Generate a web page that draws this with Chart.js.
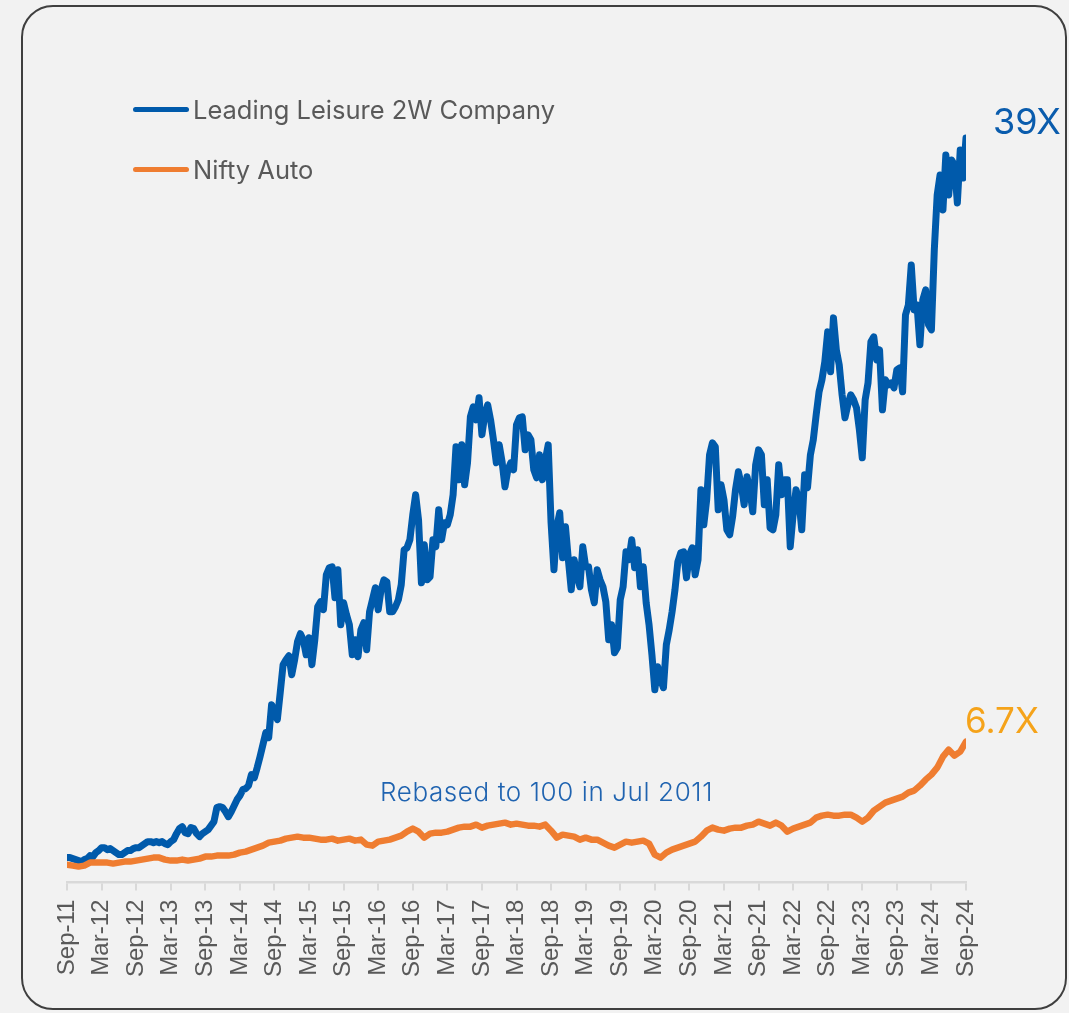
<!DOCTYPE html>
<html>
<head>
<meta charset="utf-8">
<script src="https://cdn.jsdelivr.net/npm/chart.js@4.4.1/dist/chart.umd.min.js"></script>
<style>
  body { margin: 0; background: #f2f2f2; overflow: hidden; width: 1069px; height: 1013px; position: relative; font-family: Inter, "Open Sans", sans-serif; }
  .card { position: absolute; left: 21px; top: 5px; width: 1046px; height: 1005px; border: 2.5px solid #3f3f3f; border-radius: 32px; box-sizing: border-box; }
  #chart { position: absolute; left: 0; top: 0; }
  .legend { position: absolute; left: 133px; color: #595959; font-size: 25.5px; display: flex; align-items: center; }
  .legend span.swatch { display: inline-block; width: 56px; height: 5px; border-radius: 3px; margin-right: 4px; }
  .note { position: absolute; white-space: nowrap; }
</style>
</head>
<body>
<div class="card"></div>
<canvas id="chart" width="1069" height="1013"></canvas>

<div class="legend" style="top: 94px;"><span class="swatch" style="background:#005aab"></span>Leading Leisure 2W Company</div>
<div class="legend" style="top: 154px;"><span class="swatch" style="background:#ef7d31"></span>Nifty Auto</div>

<div class="note" style="left: 993px; top: 99px; font-size: 36px; color: #0a5cad;">39X</div>
<div class="note" style="left: 965px; top: 699px; font-size: 35px; color: #f5a31a;">6.7X</div>
<div class="note" style="left: 380px; top: 776px; font-size: 26px; letter-spacing: 0.6px; color: #1f63b0; font-weight: 300;">Rebased to 100 in Jul 2011</div>

<script>
// x-axis tick labels, one every 6 months
const tickLabels = ["Sep-11", "Mar-12", "Sep-12", "Mar-13", "Sep-13", "Mar-14", "Sep-14", "Mar-15", "Sep-15",
    "Mar-16", "Sep-16", "Mar-17", "Sep-17", "Mar-18", "Sep-18", "Mar-19", "Sep-19", "Mar-20", "Sep-20",
    "Mar-21", "Sep-21", "Mar-22", "Sep-22", "Mar-23", "Sep-23", "Mar-24", "Sep-24"];

// Leading Leisure 2W Company, rebased to 100, one value every half month from Sep-11
const companyValues = [
    110, 110, 105, 100, 95, 90, 100, 105, 120, 115, 135, 145,
    160, 160, 150, 155, 145, 135, 125, 125, 135, 145, 145, 155,
    160, 160, 170, 180, 190, 190, 185, 190, 185, 190, 180, 175,
    190, 200, 230, 255, 265, 235, 230, 260, 255, 230, 215, 230,
    240, 250, 270, 290, 360, 365, 360, 340, 315, 340, 370, 400,
    420, 450, 455, 470, 525, 510, 560, 615, 675, 735, 710, 875,
    840, 800, 935, 1075, 1100, 1120, 1025, 1100, 1190, 1230, 1200, 1125,
    1210, 1075, 1200, 1365, 1390, 1350, 1525, 1560, 1565, 1410, 1550, 1275,
    1385, 1325, 1275, 1125, 1200, 1115, 1250, 1285, 1150, 1340, 1400, 1460,
    1350, 1450, 1500, 1490, 1340, 1340, 1365, 1400, 1475, 1650, 1660, 1700,
    1825, 1925, 1800, 1485, 1675, 1500, 1515, 1700, 1665, 1850, 1700, 1785,
    1775, 1825, 1925, 2165, 2000, 2175, 1975, 2085, 2315, 2365, 2300, 2410,
    2225, 2325, 2375, 2300, 2200, 2085, 2175, 2090, 1965, 2050, 2085, 2050,
    2275, 2310, 2315, 2150, 2225, 2200, 2050, 2010, 2125, 2000, 2100, 2175,
    1785, 1550, 1765, 1835, 1610, 1765, 1600, 1450, 1600, 1525, 1465, 1665,
    1565, 1565, 1450, 1385, 1550, 1500, 1465, 1390, 1200, 1275, 1135, 1160,
    1400, 1465, 1640, 1600, 1700, 1560, 1650, 1465, 1565, 1385, 1275, 1125,
    950, 1065, 1000, 960, 1175, 1250, 1340, 1450, 1590, 1635, 1640, 1510,
    1625, 1660, 1525, 1600, 1950, 1775, 1900, 2125, 2185, 2165, 1850, 1975,
    1900, 1750, 1725, 1815, 1950, 2040, 1975, 1875, 2015, 1950, 1840, 2075,
    2150, 2125, 1875, 2000, 1760, 1750, 1825, 2075, 1925, 2000, 2000, 1665,
    1825, 1950, 1900, 1750, 2025, 1960, 2125, 2200, 2325, 2440, 2500, 2590,
    2740, 2540, 2810, 2650, 2575, 2425, 2310, 2375, 2425, 2400, 2360, 2250,
    2110, 2400, 2485, 2690, 2715, 2600, 2650, 2350, 2500, 2475, 2485, 2460,
    2550, 2560, 2440, 2825, 2875, 3075, 2850, 2875, 2675, 2900, 2950, 2775,
    2750, 3150, 3425, 3525, 3350, 3625, 3425, 3600, 3575, 3385, 3650, 3510,
    3710
];

// Nifty Auto, rebased to 100, one value per month from Sep-11
const niftyValues = [
    75, 70, 65, 70, 85, 85, 85, 85, 80, 85, 90, 90,
    95, 100, 105, 110, 110, 100, 95, 95, 100, 95, 100, 105,
    115, 115, 120, 120, 120, 125, 135, 140, 150, 160, 170, 185,
    190, 195, 205, 210, 215, 210, 210, 205, 200, 200, 205, 195,
    200, 205, 195, 200, 175, 170, 190, 195, 200, 210, 220, 240,
    255, 240, 210, 230, 235, 235, 240, 250, 260, 265, 265, 275,
    260, 270, 275, 280, 285, 275, 280, 275, 270, 270, 265, 275,
    245, 210, 225, 220, 215, 200, 210, 200, 200, 185, 170, 160,
    175, 190, 185, 190, 195, 180, 125, 110, 135, 150, 160, 170,
    180, 190, 215, 245, 260, 250, 245, 255, 260, 260, 270, 275,
    290, 280, 270, 285, 270, 240, 255, 265, 275, 285, 310, 320,
    325, 320, 320, 325, 325, 310, 290, 310, 345, 365, 385, 395,
    405, 415, 435, 445, 470, 500, 525, 560, 615, 650, 620, 640,
    690
];

// x is months since Sep-11
const companyPoints = companyValues.map((v, i) => ({ x: i / 2, y: v }));
const niftyPoints = niftyValues.map((v, i) => ({ x: i, y: v }));

const ctx = document.getElementById("chart").getContext("2d");

new Chart(ctx, {
    type: "line",
    data: {
        datasets: [
            {
                label: "Leading Leisure 2W Company",
                data: companyPoints,
                borderColor: "#005aab",
                borderWidth: 7,
                pointRadius: 0,
                tension: 0,
                borderJoinStyle: "round",
                borderCapStyle: "round",
                order: 2,
            },
            {
                label: "Nifty Auto",
                data: niftyPoints,
                borderColor: "#ef7d31",
                borderWidth: 6.5,
                pointRadius: 0,
                tension: 0,
                borderJoinStyle: "round",
                borderCapStyle: "round",
                order: 1,
            },
        ],
    },
    options: {
        responsive: false,
        animation: false,
        layout: {
            padding: { left: 67, right: 103, top: 60, bottom: 27 },
        },
        plugins: {
            legend: { display: false },
            tooltip: { enabled: false },
        },
        scales: {
            x: {
                type: "linear",
                min: 0,
                max: 156,
                grid: {
                    drawOnChartArea: false,
                    drawTicks: true,
                    tickLength: 8,
                    color: "#d9d9d9",
                    lineWidth: 2,
                },
                border: { display: true, color: "#d9d9d9", width: 2.5 },
                ticks: {
                    stepSize: 6,
                    autoSkip: false,
                    minRotation: 90,
                    maxRotation: 90,
                    padding: 9,
                    color: "#595959",
                    font: { family: "Liberation Sans", size: 24 },
                    callback: (value) => tickLabels[Math.round(value / 6)],
                },
            },
            y: {
                display: false,
                min: -15,
                max: 4100,
            },
        },
    },
});
</script>
</body>
</html>
